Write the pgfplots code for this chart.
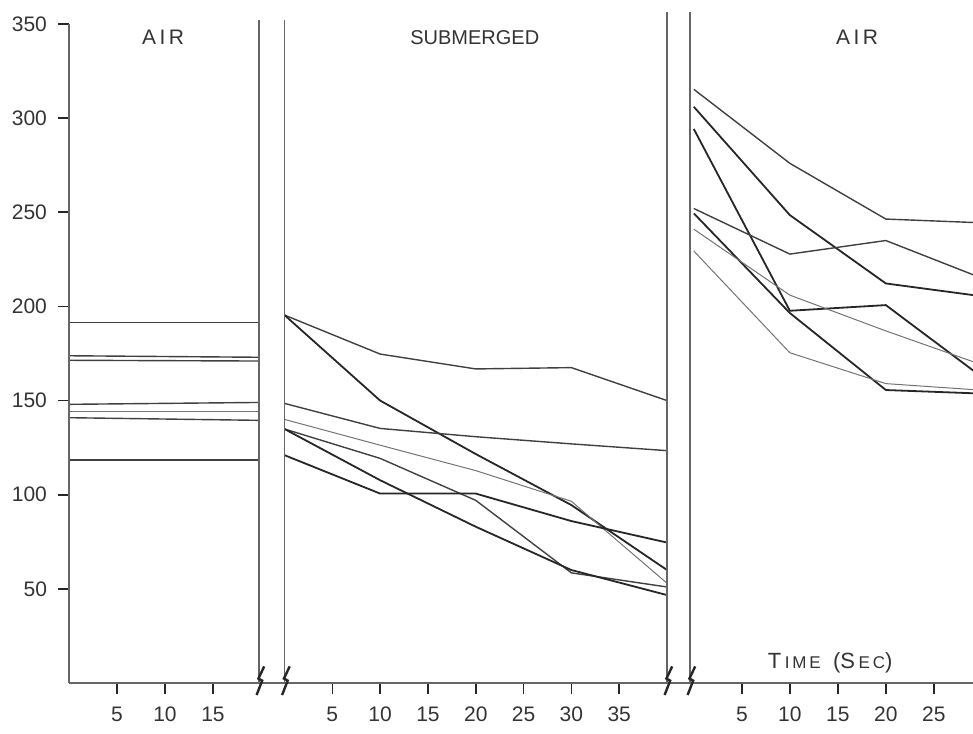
\documentclass[border=0pt]{standalone}
\usepackage{fontspec}
\setmainfont{Liberation Sans}
\usepackage{pgfplots}
\pgfplotsset{compat=1.18}
\tikzset{
  dk/.style={line width=0.9pt, black!85},
  md/.style={line width=0.7pt, black!75},
  lt/.style={line width=0.5pt, black!55},
  sep/.style={line width=0.6pt, black!60},
}
\pgfplotsset{
  panel/.style={
    scale only axis, height=329.5pt, ymin=0, ymax=350,
    axis line style={draw=none},
    tick align=outside, major tick length=5.5pt,
    xtick pos=bottom, ytick pos=left,
    tick style={black!85, line width=0.8pt},
    ticklabel style={font=\fontsize{10.5}{12}\selectfont, text=black!80},
    /pgf/number format/assume math mode=true,
    clip mode=individual,
    every axis plot/.append style={mark=none},
  },
}
\newcommand{\brk}[1]{\draw[line width=1.2pt, black!85, line join=miter] (#1+2.6pt,8.3pt) -- (#1-0.3pt,2.2pt) -- (#1+1.6pt,1.2pt) -- (#1-1.2pt,-6pt);}
\begin{document}
\begin{tikzpicture}
\useasboundingbox (-34.5pt,-25pt) rectangle (452pt,341.5pt);
% ---------------- panel 1: AIR
\begin{axis}[panel, name=p1, at={(0pt,0pt)}, anchor=south west,
  width=95pt, xmin=0, xmax=19.8,
  xtick={5,10,15}, ytick={50,100,...,350},
  yticklabel style={xshift=-2pt}, xticklabel style={yshift=-3pt}]
\addplot[md] coordinates {(0,191.5) (19.8,191.5)};
\addplot[md] coordinates {(0,173.8) (19.8,173.0)};
\addplot[md] coordinates {(0,171.4) (19.8,171.0)};
\addplot[md] coordinates {(0,148.0) (19.8,149.0)};
\addplot[lt] coordinates {(0,144.1) (19.8,144.1)};
\addplot[md] coordinates {(0,140.9) (19.8,139.5)};
\addplot[md] coordinates {(0,118.4) (19.8,118.4)};
\draw[sep] (rel axis cs:0,0) -- (rel axis cs:0,1);
\node[font=\fontsize{10.5}{12}\selectfont, text=black!80] at (axis cs:9.8,343) {A\,I\,R};
\end{axis}
% ---------------- panel 2: SUBMERGED
\begin{axis}[panel, name=p2, at={(107.75pt,0pt)}, anchor=south west,
  width=191.25pt, xmin=0, xmax=40,
  xtick={5,10,...,35}, ytick=\empty, xticklabel style={yshift=-3pt}]
\addplot[md] coordinates {(0,195.4) (10,174.7) (20,166.8) (30,167.5) (40,150.0)};
\addplot[dk] coordinates {(0,195.4) (10,150.0) (20,121.6) (30,94.5) (40,60.0)};
\addplot[md] coordinates {(0,148.5) (10,135.2) (20,130.8) (30,127.0) (40,123.4)};
\addplot[lt] coordinates {(0,140.0) (10,126.3) (20,112.8) (30,96.5) (40,53.0)};
\addplot[md] coordinates {(0,134.9) (10,119.3) (20,97.0) (30,58.5) (40,51.0)};
\addplot[dk] coordinates {(0,121.0) (10,100.6) (20,100.6) (30,86.0) (40,74.6)};
\addplot[dk] coordinates {(0,134.9) (10,107.7) (20,83.0) (30,60.0) (40,46.7)};
\node[font=\fontsize{10}{12}\selectfont, text=black!80] at (axis cs:19.9,343) {SUBMERGED};
\end{axis}
% ---------------- panel 3: AIR
\begin{axis}[panel, name=p3, at={(310.5pt,0pt)}, anchor=south west,
  width=141.5pt, xmin=-0.4, xmax=29.08,
  xtick={5,10,...,25}, ytick=\empty, xticklabel style={yshift=-3pt}]
\addplot[md] coordinates {(0,315.3) (10,276.0) (20,246.4) (30,244.4)};
\addplot[dk] coordinates {(0,306.0) (10,248.5) (20,212.2) (30,205.4)};
\addplot[dk] coordinates {(0,294.2) (10,197.7) (20,200.7) (30,162.5)};
\addplot[md] coordinates {(0,252.0) (10,227.8) (20,235.0) (30,215.0)};
\addplot[dk] coordinates {(0,249.4) (10,196.5) (20,155.6) (30,153.7)};
\addplot[lt] coordinates {(0,241.0) (10,206.0) (20,187.0) (30,169.0)};
\addplot[lt] coordinates {(0,229.4) (10,175.4) (20,159.0) (30,155.5)};
\node[font=\fontsize{10.5}{12}\selectfont, text=black!80] at (axis cs:17.0,343) {A\,I\,R};
\node[font=\fontsize{11}{12}\selectfont, text=black!80] at (axis cs:14.2,10.6) {T\,{\fontsize{8.5}{9}\selectfont I\,M\,E}\ \ (S\,{\fontsize{8.5}{9}\selectfont E\,C})};
\end{axis}
% ---------------- axis lines, separators, breaks
\draw[sep] (0pt,0pt) -- (452pt,0pt);
\draw[sep] (95pt,0pt) -- (95pt,331.5pt);
\draw[sep] (107.75pt,0pt) -- (107.75pt,331.5pt);
\draw[sep] (299pt,0pt) -- (299pt,335.5pt);
\draw[sep] (310.5pt,0pt) -- (310.5pt,335.5pt);
\brk{95pt}
\brk{107.75pt}
\brk{299pt}
\brk{310.5pt}
\end{tikzpicture}
\end{document}
